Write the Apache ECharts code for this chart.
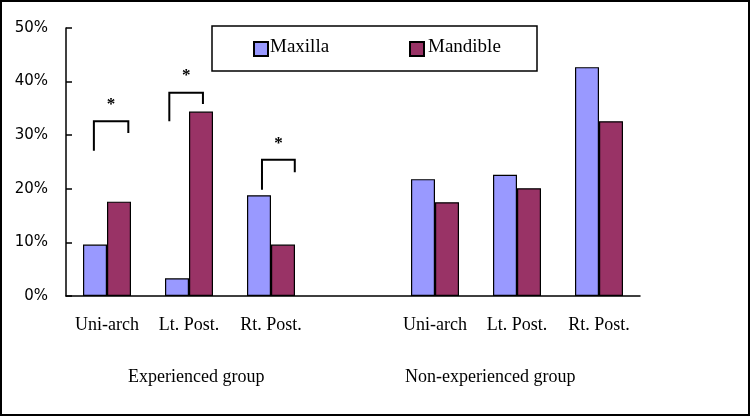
<!DOCTYPE html>
<html>
<head>
<meta charset="utf-8">
<script src="https://cdn.jsdelivr.net/npm/echarts@6/dist/echarts.min.js"></script>
<style>
html,body{margin:0;padding:0;background:#fff;}
#chart{width:750px;height:416px;}
</style>
</head>
<body>
<div id="chart"></div>
<script>
// ---- data ----
var categories = ['Uni-arch', 'Lt. Post.', 'Rt. Post.', '', 'Uni-arch', 'Lt. Post.', 'Rt. Post.'];
var seriesNames = ['Maxilla', 'Mandible'];
var maxilla  = [9.6, 3.3, 18.8, null, 21.8, 22.6, 42.7];
var mandible = [17.6, 34.4, 9.6, null, 17.5, 20.1, 32.6];
var yTicks = [0, 10, 20, 30, 40, 50];
var groupLabels = ['Experienced group', 'Non-experienced group'];
// significance brackets (values in %)
var bracketCats   = [0, 1, 2];
var bracketLeft   = [27.1, 32.6, 19.8];
var bracketTop    = [32.6, 37.9, 25.4];
var bracketRight  = [30.4, 35.8, 23.1];
var starLevel     = [36.2, 41.6, 28.9];
var starText      = ['*', '*', '*'];

// layout constants (fractions of the category band) for the brackets
var bracketSpan = [[-0.16, 0.26], [-0.24, 0.17], [-0.11, 0.29]];

var chart = echarts.init(document.getElementById('chart'));
var serif = 'Liberation Serif';

var bracketData = bracketCats.map(function (c, i) {
  return [c, bracketLeft[i], bracketTop[i], bracketRight[i], starLevel[i], i];
});

var option = {
  animation: false,
  backgroundColor: '#ffffff',
  textStyle: { fontFamily: serif, color: '#000' },
  grid: { left: 66, right: 110, top: 28, bottom: 120 },
  legend: {
    data: [{ name: seriesNames[0], icon: 'rect' }, { name: seriesNames[1], icon: 'rect' }],
    left: 253, top: 41,
    padding: 0,
    itemGap: 140,
    itemWidth: 14, itemHeight: 14,
    formatter: function () { return ''; },
    selectedMode: false
  },
  xAxis: {
    type: 'category',
    data: categories,
    axisLine: { lineStyle: { color: '#000', width: 1.5 } },
    axisTick: { inside: true, length: 6, lineStyle: { color: '#000', width: 1.5 } },
    axisLabel: { fontFamily: serif, fontSize: 18, color: '#000', margin: 20, interval: 0 }
  },
  yAxis: {
    type: 'value',
    min: 0, max: 50, interval: 10,
    axisLine: { show: true, lineStyle: { color: '#000', width: 1.5 } },
    axisTick: { show: true, inside: true, length: 6, lineStyle: { color: '#000', width: 1.5 } },
    splitLine: { show: false },
    axisLabel: {
      fontFamily: 'DejaVu Sans', fontSize: 15, color: '#000', margin: 18,
      formatter: function (v) { return yTicks.indexOf(v) >= 0 ? v + '%' : ''; }
    }
  },
  series: [
    {
      name: seriesNames[0], type: 'bar', data: maxilla, barWidth: 24, barGap: '0%',
      itemStyle: { color: '#9999FF', borderColor: '#000', borderWidth: 1.2 }
    },
    {
      name: seriesNames[1], type: 'bar', data: mandible, barWidth: 24, barGap: '0%',
      itemStyle: { color: '#993366', borderColor: '#000', borderWidth: 1.2 }
    },
    {
      type: 'custom',
      data: bracketData,
      z: 5,
      silent: true,
      renderItem: function (params, api) {
        var c = api.value(0);
        var idx = api.value(5);
        var band = api.size([1, 0])[0];
        var center = api.coord([c, 0])[0];
        var xl = center + bracketSpan[idx][0] * band;
        var xr = center + bracketSpan[idx][1] * band;
        var yl = api.coord([c, api.value(1)])[1];
        var yt = api.coord([c, api.value(2)])[1];
        var yr = api.coord([c, api.value(3)])[1];
        var ys = api.coord([c, api.value(4)])[1];
        return {
          type: 'group',
          children: [
            {
              type: 'polyline',
              shape: { points: [[xl, yl], [xl, yt], [xr, yt], [xr, yr]] },
              style: { stroke: '#000', lineWidth: 2, fill: null }
            },
            {
              type: 'text',
              style: {
                text: starText[idx],
                x: (xl + xr) / 2, y: ys + 3,
                align: 'center', verticalAlign: 'middle',
                font: 'bold 17px ' + serif, fill: '#000'
              }
            }
          ]
        };
      }
    }
  ],
  graphic: [
    {
      type: 'rect', silent: true,
      shape: { x: 1, y: 1, width: 748, height: 414 },
      style: { fill: null, stroke: '#000', lineWidth: 2 }
    },
    {
      type: 'rect', silent: true,
      shape: { x: 212, y: 26, width: 325, height: 45 },
      style: { fill: null, stroke: '#000', lineWidth: 1.5 }
    },
    {
      type: 'text', left: 270, top: 38,
      style: { text: seriesNames[0], font: '19px ' + serif, fill: '#000' }
    },
    {
      type: 'text', left: 428, top: 38,
      style: { text: seriesNames[1], font: '19px ' + serif, fill: '#000' }
    },
    {
      type: 'text', left: 128, top: 368,
      style: { text: groupLabels[0], font: '18px ' + serif, fill: '#000' }
    },
    {
      type: 'text', left: 405, top: 368,
      style: { text: groupLabels[1], font: '18px ' + serif, fill: '#000' }
    }
  ]
};
chart.setOption(option);
</script>
</body>
</html>
